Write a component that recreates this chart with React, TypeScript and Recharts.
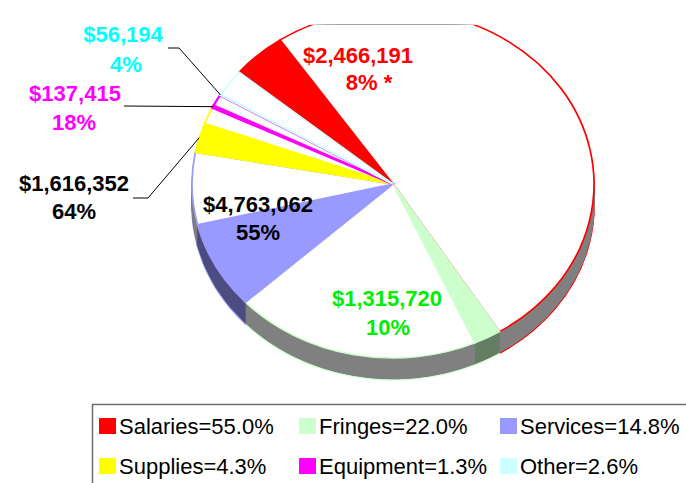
import React from 'react';
import { PieChart, Pie, Cell } from 'recharts';

// ---- data ----
const categories = ['Salaries', 'Fringes', 'Services', 'Supplies', 'Equipment', 'Other'];
const budgetShare = [55.0, 22.0, 14.8, 4.3, 1.3, 2.6];
const spentPercent = [8, 10, 55, 64, 18, 4];
const spentAmount = [2466191, 1315720, 4763062, 1616352, 137415, 56194];
const labelNotes = [' *', '', '', '', '', ''];

// ---- styles ----
const fillColors = ['#ff0000', '#ccffcc', '#9999ff', '#ffff00', '#ff00ff', '#ccffff'];
const labelColors = ['#ff0000', '#00ee00', '#000000', '#000000', '#ff00ff', '#00ffff'];
const wallFilled = ['#800000', '#657d65', '#4d4d80', '#808000', '#800080', '#668080'];
const wallEmpty = '#808080';
const FONT = '"Liberation Sans", Arial, sans-serif';

const segments = categories.flatMap((c, i) => {
  const spent = (budgetShare[i] * spentPercent[i]) / 100;
  return [
    { name: c + ' spent', value: spent, cat: i, spent: true },
    { name: c + ' remaining', value: budgetShare[i] - spent, cat: i, spent: false },
  ];
});
const categoryData = categories.map((c, i) => ({ name: c, value: budgetShare[i] }));

// ---- layout ----
const W = 686;
const H = 483;
const CX = 393;
const CY = 184;
const R = 201;
const K = 0.866;
const DEPTH = 25;
const START = 140;
const END = START - 360;
const RAD = Math.PI / 180;

const labelPos = [
  { x1: 358, y1: 55, x2: 369, y2: 82 },
  { x1: 387, y1: 298, x2: 388, y2: 327 },
  { x1: 258, y1: 204, x2: 258, y2: 232 },
  { x1: 74, y1: 183, x2: 74, y2: 211 },
  { x1: 75, y1: 93, x2: 74, y2: 122 },
  { x1: 123, y1: 34, x2: 126, y2: 64 },
];
const leaderStarts: (number[][] | null)[] = [
  null,
  null,
  null,
  [[133, 198], [148, 198]],
  [[124, 106]],
  [[168, 48], [179, 48]],
];

const legendCols = [99, 299, 500];
const legendRows = [418, 458];

const fmt = (n: number) => '$' + n.toLocaleString('en-US');

const renderLabel = (props: any) => {
  const { cx, cy, startAngle, endAngle, outerRadius, index } = props;
  const p = labelPos[index];
  const col = labelColors[index];
  const lead = leaderStarts[index];
  let line = null;
  if (lead) {
    // point at the middle of the spent part of the slice
    const a = startAngle + ((endAngle - startAngle) * spentPercent[index]) / 200;
    const ex = cx + outerRadius * Math.cos(-a * RAD);
    const ey = cy + outerRadius * K * Math.sin(-a * RAD);
    const pts = [...lead, [ex, ey]].map((q) => q.join(',')).join(' ');
    line = <polyline points={pts} fill="none" stroke="#000" strokeWidth={1} />;
  }
  return (
    <g key={'lbl' + index}>
      {line}
      <text x={p.x1} y={p.y1 + 7.5} textAnchor="middle" fill={col} fontSize={22} fontWeight="bold" fontFamily={FONT}>
        {fmt(spentAmount[index])}
      </text>
      <text x={p.x2} y={p.y2 + 7.5} textAnchor="middle" fill={col} fontSize={22} fontWeight="bold" fontFamily={FONT}>
        {spentPercent[index] + '%' + labelNotes[index]}
      </text>
    </g>
  );
};

const wallLayers = Array.from({ length: DEPTH }, (_, k) => DEPTH - k);

export default function App() {
  return (
    <div style={{ position: 'fixed', left: 0, top: 0, width: W, height: H, background: '#fff', overflow: 'hidden' }}>
      <div
        style={{
          position: 'absolute',
          left: 0,
          top: 0,
          width: W,
          height: H,
          transform: `scale(1, ${K})`,
          transformOrigin: `0px ${CY}px`,
        }}
      >
        <PieChart width={W} height={H} margin={{ top: 0, right: 0, bottom: 0, left: 0 }}>
          {wallLayers.map((off) => (
            <Pie
              key={'wall' + off}
              data={segments}
              dataKey="value"
              cx={CX}
              cy={CY + off}
              outerRadius={R}
              startAngle={START}
              endAngle={END}
              isAnimationActive={false}
              labelLine={false}
            >
              {segments.map((s, i) => (
                <Cell
                  key={i}
                  fill={s.spent ? wallFilled[s.cat] : wallEmpty}
                  stroke={off === DEPTH ? fillColors[s.cat] : s.spent ? wallFilled[s.cat] : wallEmpty}
                  strokeWidth={off === DEPTH ? 1.7 : 1}
                />
              ))}
            </Pie>
          ))}
          <Pie
            data={segments}
            dataKey="value"
            cx={CX}
            cy={CY}
            outerRadius={R}
            startAngle={START}
            endAngle={END}
            isAnimationActive={false}
            labelLine={false}
          >
            {segments.map((s, i) => (
              <Cell
                key={i}
                fill={s.spent ? fillColors[s.cat] : '#ffffff'}
                stroke={fillColors[s.cat]}
                strokeWidth={s.cat === 4 ? 2.5 : 1.7}
              />
            ))}
          </Pie>
        </PieChart>
      </div>
      <div style={{ position: 'absolute', left: 0, top: 0, width: W, height: H }}>
        <PieChart width={W} height={H} margin={{ top: 0, right: 0, bottom: 0, left: 0 }}>
          <Pie
            data={categoryData}
            dataKey="value"
            cx={CX}
            cy={CY}
            outerRadius={R}
            startAngle={START}
            endAngle={END}
            fill="none"
            stroke="none"
            isAnimationActive={false}
            labelLine={false}
            label={renderLabel}
          />
          <g>
            <rect x={92.5} y={404.5} width={620} height={120} fill="none" stroke="#6e6e6e" strokeWidth={1.5} />
            {categories.map((c, i) => {
              const col = i % 3;
              const row = Math.floor(i / 3);
              const sx = legendCols[col];
              const sy = legendRows[row];
              return (
                <g key={'leg' + i}>
                  <rect x={sx} y={sy} width={17} height={16} fill={fillColors[i]} />
                  <text x={sx + 20} y={sy + 16} fontSize={22} fontFamily={FONT} fill="#000">
                    {`${c}=${budgetShare[i].toFixed(1)}%`}
                  </text>
                </g>
              );
            })}
          </g>
        </PieChart>
      </div>
    </div>
  );
}
